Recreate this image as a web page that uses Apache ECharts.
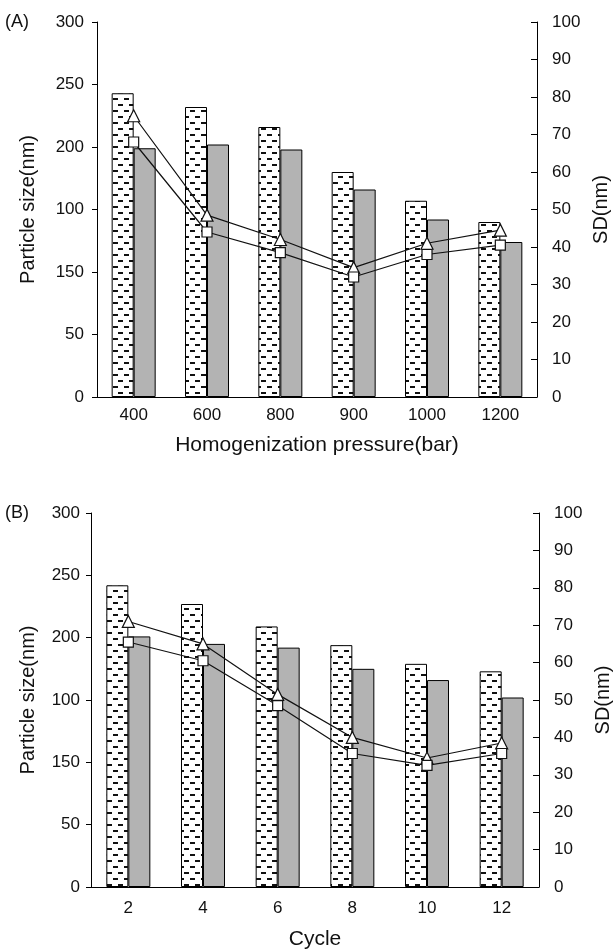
<!DOCTYPE html>
<html>
<head>
<meta charset="utf-8">
<script src="https://cdn.jsdelivr.net/npm/echarts@6/dist/echarts.min.js"></script>
<style>html,body{margin:0;padding:0;background:#fff}#c{width:614px;height:949px}</style>
</head>
<body>
<div id="c"></div>
<script>
// ---- data ----
const pressureCats = ['400', '600', '800', '900', '1000', '1200'];
const sizeA_hatched = [243, 232, 216, 180, 157, 140];
const sizeA_gray = [199, 202, 198, 166, 142, 124];
const sdA_triangle = [75, 48.5, 42, 34.5, 41, 44.5];
const sdA_square = [68, 44, 38.5, 32, 38, 40.5];

const cycleCats = ['2', '4', '6', '8', '10', '12'];
const sizeB_hatched = [242, 227, 209, 194, 179, 173];
const sizeB_gray = [201, 195, 192, 175, 166, 152];
const sdB_triangle = [71, 65, 51.5, 40, 34.5, 38.5];
const sdB_square = [65.5, 60.5, 48.5, 35.7, 32.5, 35.7];

const leftTickLabels = ['0', '50', '150', '100', '200', '250', '300'];
const rightTickLabels = ['0', '10', '20', '30', '40', '50', '60', '70', '80', '90', '100'];

// ---- hatch pattern ----
const pc = document.createElement('canvas');
pc.width = 11; pc.height = 12;
const g = pc.getContext('2d');
g.fillStyle = '#fff'; g.fillRect(0, 0, 11, 12);
g.fillStyle = '#111';
g.fillRect(3, 2, 5, 2);
g.fillRect(8, 8, 3, 2);
g.fillRect(0, 8, 2, 2);
const hatch = { image: pc, repeat: 'repeat' };

const FONT = "'Liberation Sans', Arial, sans-serif";
const txt = { color: '#111', fontFamily: FONT, fontSize: 17 };
const nameTxt = { color: '#111', fontFamily: FONT, fontSize: 20 };

function xAx(grid, cats, name, gap, margin) {
  return {
    type: 'category', gridIndex: grid, data: cats,
    name: name, nameLocation: 'middle', nameGap: gap,
    nameTextStyle: Object.assign({}, nameTxt, { fontSize: 21 }),
    axisLine: { lineStyle: { color: '#000', width: 1 } },
    axisTick: { inside: true, length: 4, lineStyle: { color: '#000' } },
    axisLabel: Object.assign({ margin: margin }, txt)
  };
}
function yLeft(grid, gap, margin) {
  return {
    type: 'value', gridIndex: grid, min: 0, max: 300, interval: 50, position: 'left',
    name: 'Particle size(nm)', nameLocation: 'middle', nameGap: gap, nameRotate: 90,
    nameTextStyle: nameTxt,
    splitLine: { show: false },
    axisLine: { show: true, lineStyle: { color: '#000', width: 1 } },
    axisTick: { show: true, length: 5, lineStyle: { color: '#000' } },
    axisLabel: Object.assign({ margin: margin, formatter: v => leftTickLabels[Math.round(v / 50)] }, txt)
  };
}
function yRight(grid, gap) {
  return {
    type: 'value', gridIndex: grid, min: 0, max: 100, interval: 10, position: 'right',
    name: 'SD(nm)', nameLocation: 'middle', nameGap: gap, nameRotate: 90,
    nameTextStyle: nameTxt,
    splitLine: { show: false },
    axisLine: { show: true, lineStyle: { color: '#000', width: 1 } },
    axisTick: { show: true, inside: true, length: 6, lineStyle: { color: '#000' } },
    axisLabel: Object.assign({ margin: 15, formatter: v => rightTickLabels[Math.round(v / 10)] }, txt)
  };
}
function barS(xi, yi, data, color) {
  return {
    type: 'bar', xAxisIndex: xi, yAxisIndex: yi, data: data, barWidth: 22, barGap: '0%',
    itemStyle: { color: color, borderColor: '#000', borderWidth: 1 }, silent: true
  };
}
function lineS(xi, yi, data, sym, size) {
  return {
    type: 'line', xAxisIndex: xi, yAxisIndex: yi, data: data, symbol: sym, symbolSize: size,
    showAllSymbol: true, z: 5,
    lineStyle: { color: '#111', width: 1.2 },
    itemStyle: { color: '#fff', borderColor: '#111', borderWidth: 1.2 }
  };
}

const chart = echarts.init(document.getElementById('c'), null, { renderer: 'canvas' });
chart.setOption({
  animation: false,
  backgroundColor: '#fff',
  graphic: [
    { type: 'text', left: 5, top: 13, style: { text: '(A)', fontSize: 18, fontFamily: FONT, fill: '#111' } },
    { type: 'text', left: 5, top: 504, style: { text: '(B)', fontSize: 18, fontFamily: FONT, fill: '#111' } }
  ],
  grid: [
    { left: 97, right: 77, top: 22, height: 375, containLabel: false, outerBoundsMode: 'none' },
    { left: 91, right: 75, top: 513, height: 374, containLabel: false, outerBoundsMode: 'none' }
  ],
  xAxis: [
    xAx(0, pressureCats, 'Homogenization pressure(bar)', 38, 10),
    xAx(1, cycleCats, 'Cycle', 42, 13)
  ],
  yAxis: [yLeft(0, 59, 13), yRight(0, 52), yLeft(1, 53, 11), yRight(1, 51)],
  series: [
    barS(0, 0, sizeA_hatched, hatch),
    barS(0, 0, sizeA_gray, '#b3b3b3'),
    lineS(0, 1, sdA_triangle, 'triangle', 12),
    lineS(0, 1, sdA_square, 'rect', 10),
    barS(1, 2, sizeB_hatched, hatch),
    barS(1, 2, sizeB_gray, '#b3b3b3'),
    lineS(1, 3, sdB_triangle, 'triangle', 12),
    lineS(1, 3, sdB_square, 'rect', 10)
  ]
});
</script>
</body>
</html>
